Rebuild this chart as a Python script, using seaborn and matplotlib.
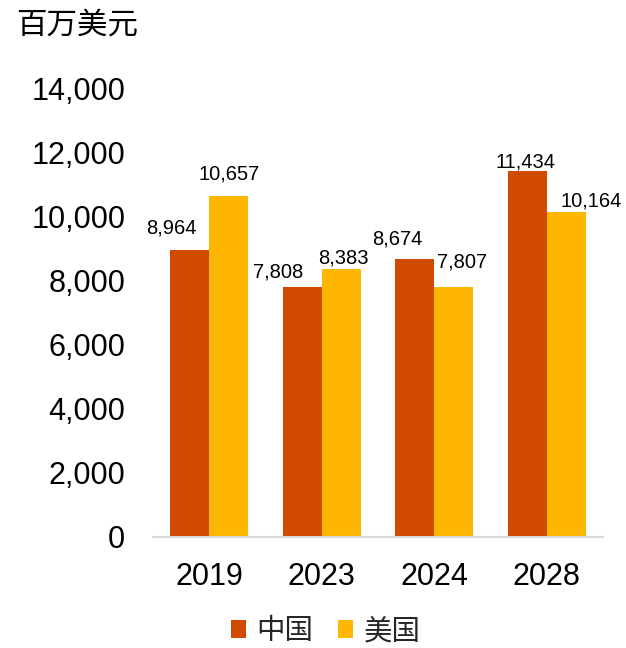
import matplotlib
matplotlib.use("Agg")
import matplotlib.pyplot as plt
from matplotlib.patches import Patch
from matplotlib.ticker import StrMethodFormatter
import pandas as pd
import seaborn as sns

# ── Data ────────────────────────────────────────────────────────────────────
YEARS    = ["2019", "2023", "2024", "2028"]
CHINA    = [8964, 7808, 8674, 11434]
USA      = [10657, 8383, 7807, 10164]
SERIES   = ["中国", "美国"]
COLORS   = ["#D04A02", "#FFB600"]
UNIT     = "百万美元"
Y_TICKS  = [0, 2000, 4000, 6000, 8000, 10000, 12000, 14000]

# label nudges (pixels) to mimic the original placement
LABEL_DX = [[-18, -24, -18, -2], [0, 2, 8, 25]]
LABEL_DY = [[17, 10, 15, 4], [16, 5, 20, 5]]

sns.set_theme(style="white")
plt.rcParams["font.family"] = ["Liberation Sans", "Noto Sans CJK SC", "DejaVu Sans"]
CJK = ["Noto Sans CJK SC", "Liberation Sans"]

df = pd.DataFrame({
    "year":    YEARS * 2,
    "value":   CHINA + USA,
    "country": [SERIES[0]] * len(YEARS) + [SERIES[1]] * len(YEARS),
})

fig = plt.figure(figsize=(6.26, 6.48), dpi=100)
ax = fig.add_axes([153 / 626, 1 - 537 / 648, 450 / 626, 448 / 648])

sns.barplot(data=df, x="year", y="value", hue="country", palette=COLORS,
            width=0.69, gap=0, saturation=1, legend=False, ax=ax,
            edgecolor="none", linewidth=0)

ax.set_xlim(-0.5, 3.5)
ax.set_ylim(0, 14000)
ax.set_yticks(Y_TICKS)
ax.yaxis.set_major_formatter(StrMethodFormatter("{x:,.0f}"))
ax.set_xlabel("")
ax.set_ylabel("")
ax.tick_params(axis="y", length=0, pad=20, labelsize=22, labelcolor="black")
ax.tick_params(axis="x", length=0, pad=18, labelsize=22, labelcolor="black")
for side in ["left", "right", "top"]:
    ax.spines[side].set_visible(False)
ax.spines["bottom"].set_color("#D9D9D9")
ax.spines["bottom"].set_linewidth(1.5)

# bar value labels
for si, cont in enumerate(ax.containers):
    for bi, bar in enumerate(cont):
        h = bar.get_height()
        ax.annotate(f"{h:,.0f}", (bar.get_x() + bar.get_width() / 2, h),
                    xytext=(LABEL_DX[si][bi], LABEL_DY[si][bi]),
                    textcoords="offset pixels", ha="center", va="baseline",
                    fontsize=14.5, color="black")

fig.text(16 / 626, 1 - 10 / 648, UNIT, ha="left", va="top",
         fontsize=22, family=CJK, color="black")

handles = [Patch(facecolor=c, edgecolor="none") for c in COLORS]
fig.legend(handles, SERIES, loc="center", bbox_to_anchor=(326 / 626, 1 - 631 / 648),
           ncol=2, frameon=False, prop={"family": CJK, "size": 20.5},
           handlelength=0.52, handleheight=0.55, handletextpad=0.38,
           columnspacing=0.86, borderpad=0)

fig.savefig("out.png", dpi=100)
